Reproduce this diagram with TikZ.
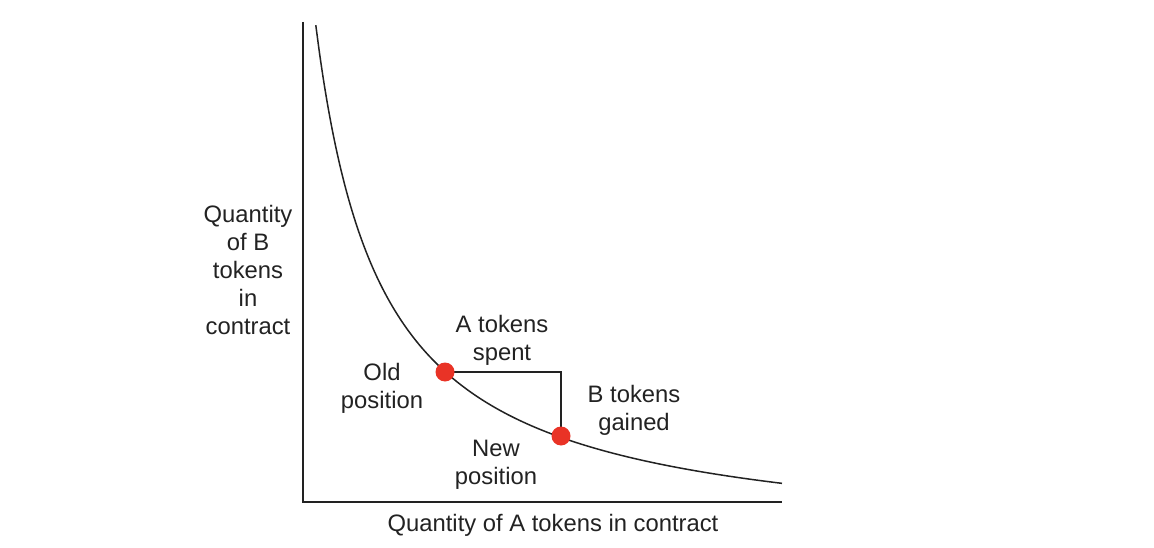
\documentclass[tikz,border=0pt]{standalone}
\usepackage{fontspec}
\setmainfont{Liberation Sans}
\definecolor{dotred}{RGB}{233,51,38}
\definecolor{ink}{RGB}{34,34,34}
\begin{document}
\begin{tikzpicture}[x=1pt,y=-1pt,
  lbl/.style={align=center,font=\fontsize{23.8}{28}\selectfont,text=ink,inner sep=0pt},
  axis/.style={draw=ink,line width=1.7pt},
  curve/.style={draw=ink,line width=1.5pt},
  dot/.style={circle,fill=dotred,minimum size=19pt,inner sep=0pt}]
\useasboundingbox (0,0) rectangle (1154,548);
\coordinate (ytop) at (303,22);
\coordinate (orig) at (303,502);
\coordinate (xend) at (782,502);
\draw[axis] (ytop) -- (orig) -- (xend);
\draw[curve] plot[domain=315.8:782,samples=120,smooth] (\x,{548-344/((\x-250)/100)});
\coordinate (po) at (445,372);
\coordinate (pn) at (561,436);
\draw[curve] (po) -| (pn);
\node[dot] (old) at (po) {};
\node[dot] (new) at (pn) {};
\node[lbl] (ylab) at (248,270) {Quantity\\of B\\tokens\\in\\contract};
\node[lbl] (xlab) at (553,525) {Quantity of A tokens in contract};
\node[lbl] (oldl) at (382,388) {Old\\position};
\node[lbl] (spent) at (502,340) {A tokens\\spent};
\node[lbl] (gained) at (634,410) {B tokens\\gained};
\node[lbl] (newl) at (496,465) {New\\position};
\end{tikzpicture}
\end{document}
